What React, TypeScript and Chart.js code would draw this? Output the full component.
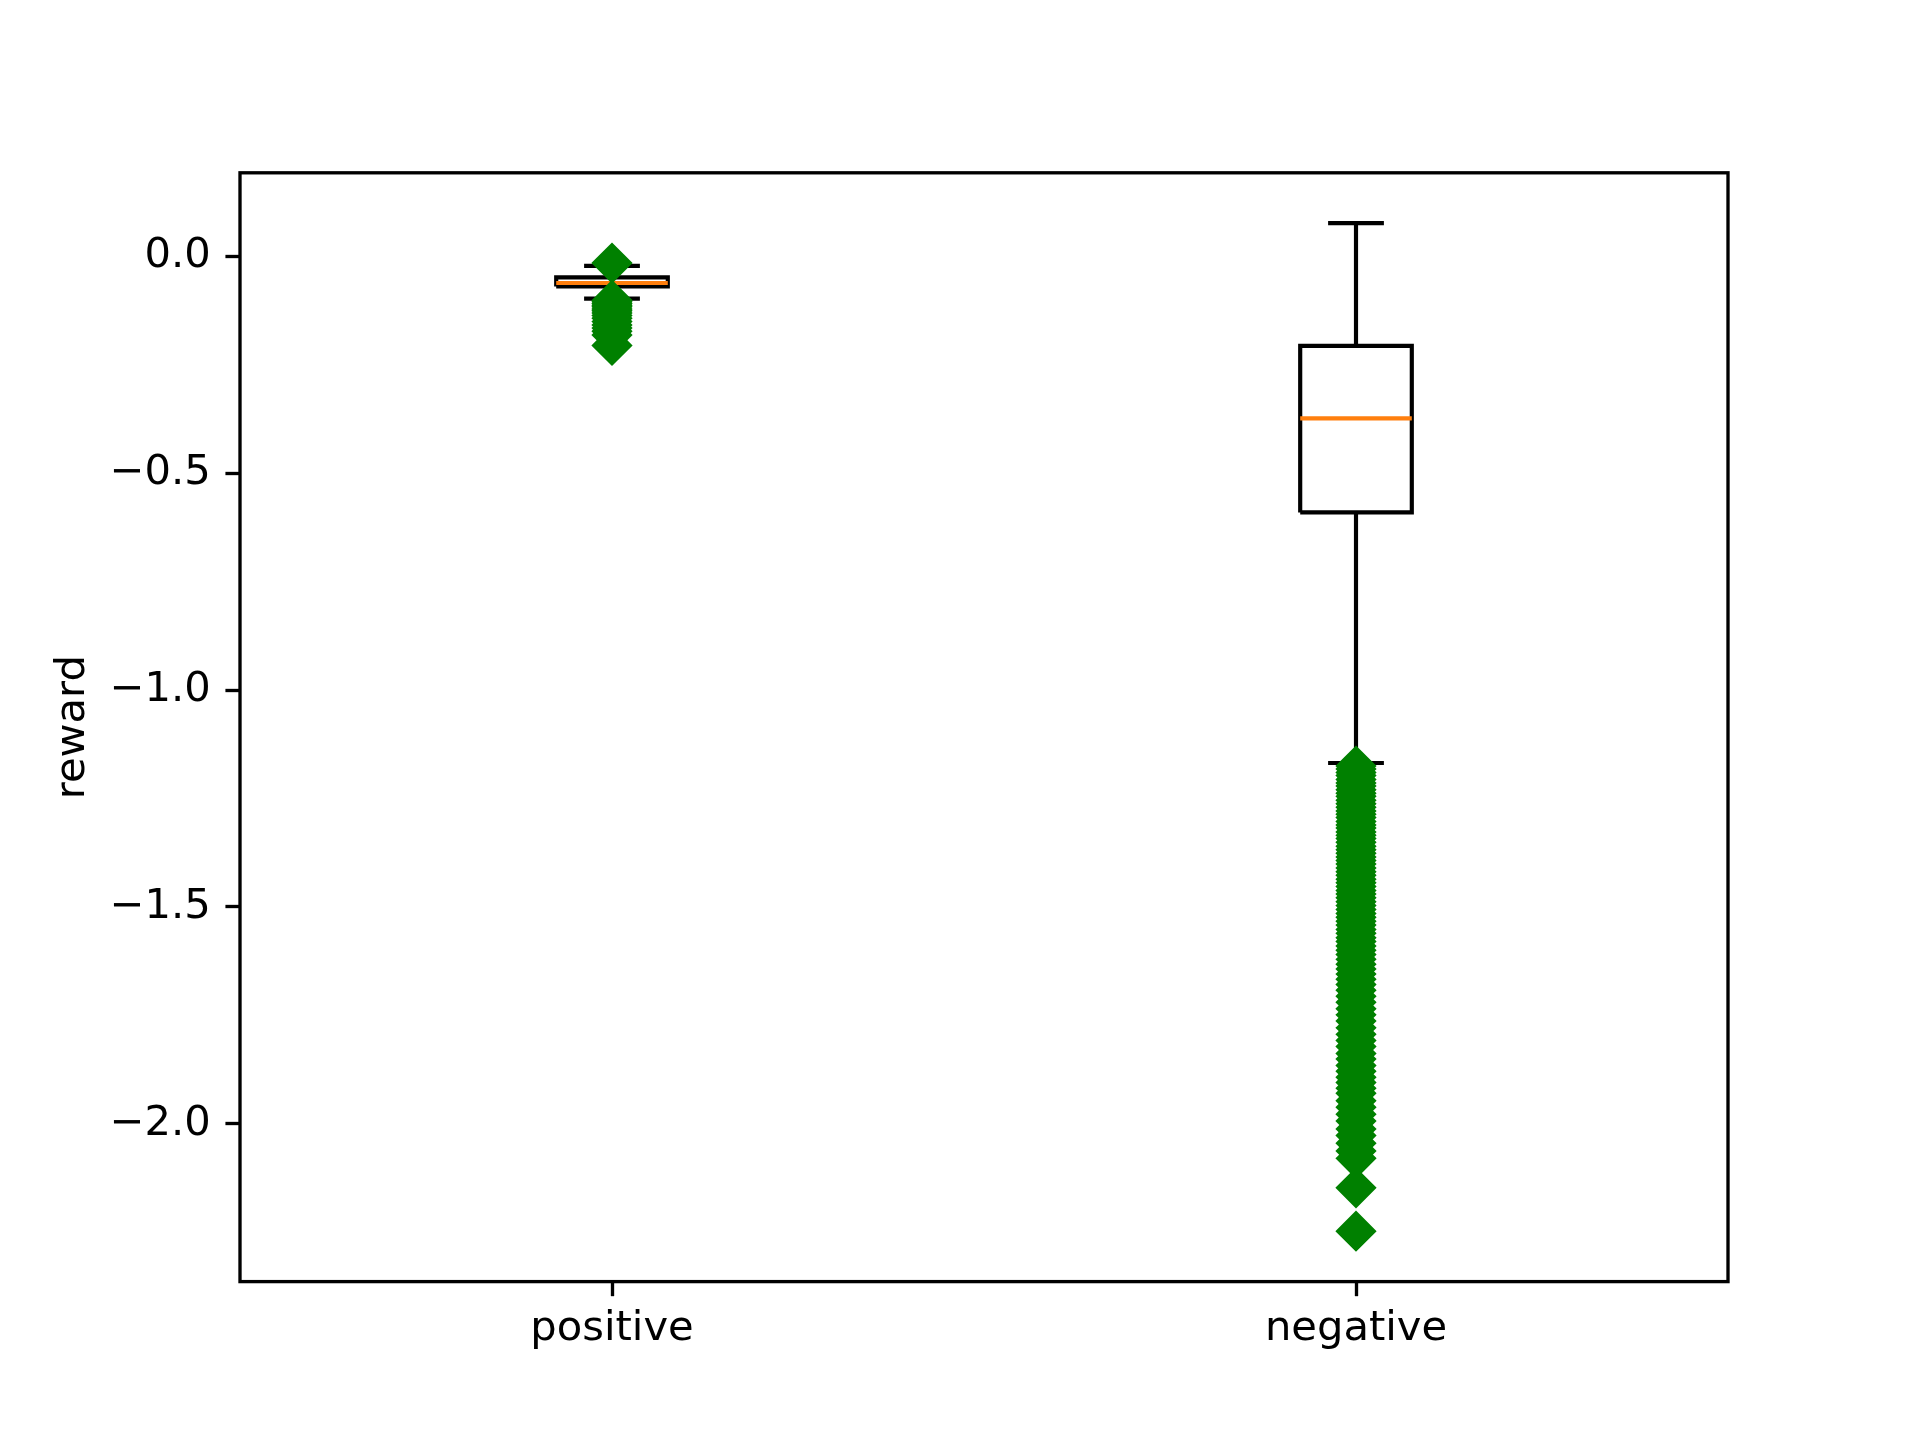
import React, { useEffect, useRef } from 'react';
import { Chart, registerables } from 'chart.js';

Chart.register(...registerables);

// ---------------- data ----------------
const categories = ['positive', 'negative'];
const positions = [1, 2];
const q1Values = [-0.069, -0.59];
const medianValues = [-0.061, -0.373];
const q3Values = [-0.048, -0.206];
const whiskerLowValues = [-0.097, -1.168];
const whiskerHighValues = [-0.0215, 0.077];
const positiveFliers = [
  -0.015, -0.101, -0.104, -0.108, -0.112, -0.116, -0.121, -0.125, -0.13, -0.136,
  -0.142, -0.15, -0.158, -0.165, -0.172, -0.181, -0.205,
];
const negativeFliers = [
  -1.175, -1.182, -1.19, -1.197, -1.206, -1.214, -1.221, -1.23, -1.238, -1.245,
  -1.254, -1.262, -1.27, -1.279, -1.286, -1.294, -1.303, -1.311, -1.318, -1.327,
  -1.335, -1.342, -1.351, -1.36, -1.368, -1.376, -1.385, -1.393, -1.401, -1.41,
  -1.419, -1.427, -1.436, -1.444, -1.453, -1.462, -1.47, -1.479, -1.488, -1.497,
  -1.506, -1.515, -1.524, -1.533, -1.542, -1.552, -1.561, -1.571, -1.58, -1.59,
  -1.6, -1.61, -1.621, -1.632, -1.643, -1.655, -1.667, -1.679, -1.692, -1.706,
  -1.72, -1.735, -1.749, -1.763, -1.779, -1.794, -1.808, -1.822, -1.838, -1.851,
  -1.866, -1.879, -1.893, -1.905, -1.918, -1.93, -1.947, -1.962, -1.978, -1.994,
  -2.012, -2.027, -2.045, -2.063, -2.08, -2.148, -2.248,
];
const fliers = [positiveFliers, negativeFliers];
const yTickValues = [-2.0, -1.5, -1.0, -0.5, 0.0];
const yLabel = 'reward';

// ---------------- style ----------------
const PT = 300 / 72;
const BOX_HALF = 0.075;
const CAP_HALF = 0.0375;
const W = 1920;
const H = 1440;

const allValues = [
  ...whiskerLowValues,
  ...whiskerHighValues,
  ...positiveFliers,
  ...negativeFliers,
];
const dataMin = Math.min(...allValues);
const dataMax = Math.max(...allValues);
const pad = 0.05 * (dataMax - dataMin);

function fmt(v: number) {
  const s = Math.abs(v).toFixed(1);
  return v < -1e-9 ? '\u2212' + s : s;
}

const frame = {
  id: 'frame',
  afterDraw(chart: any) {
    const { ctx, chartArea: a } = chart;
    ctx.save();
    ctx.strokeStyle = '#000';
    ctx.lineWidth = 0.8 * PT;
    ctx.strokeRect(a.left, a.top, a.right - a.left, a.bottom - a.top);
    ctx.restore();
  },
};

export default function App() {
  const ref = useRef<HTMLCanvasElement | null>(null);

  useEffect(() => {
    document.body.style.margin = '0';
    document.body.style.overflow = 'hidden';
    Chart.defaults.font.family = 'DejaVu Sans';
    Chart.defaults.color = '#000';

    const lineBase = {
      type: 'scatter' as const,
      showLine: true,
      pointRadius: 0,
      borderWidth: PT,
      borderColor: '#000',
      backgroundColor: '#000',
      fill: false,
      borderJoinStyle: 'miter' as const,
    };

    const datasets: any[] = [];
    // fliers (first = drawn on top)
    positions.forEach((p, i) => {
      datasets.push({
        type: 'scatter',
        data: fliers[i].map((v) => ({ x: p, y: v })),
        pointStyle: 'rectRot',
        pointRadius: (6 * PT) / Math.SQRT2,
        pointBackgroundColor: '#008000',
        pointBorderColor: '#008000',
        pointBorderWidth: PT,
        showLine: false,
      });
    });
    // medians
    positions.forEach((p, i) => {
      datasets.push({
        ...lineBase,
        borderColor: '#ff7f0e',
        data: [
          { x: p - BOX_HALF, y: medianValues[i] },
          { x: p + BOX_HALF, y: medianValues[i] },
        ],
      });
    });
    // boxes
    positions.forEach((p, i) => {
      datasets.push({
        ...lineBase,
        data: [
          { x: p - BOX_HALF, y: q1Values[i] },
          { x: p + BOX_HALF, y: q1Values[i] },
          { x: p + BOX_HALF, y: q3Values[i] },
          { x: p - BOX_HALF, y: q3Values[i] },
          { x: p - BOX_HALF, y: q1Values[i] },
        ],
      });
    });
    // whiskers and caps
    positions.forEach((p, i) => {
      datasets.push({
        ...lineBase,
        data: [
          { x: p, y: q1Values[i] },
          { x: p, y: whiskerLowValues[i] },
        ],
      });
      datasets.push({
        ...lineBase,
        data: [
          { x: p, y: q3Values[i] },
          { x: p, y: whiskerHighValues[i] },
        ],
      });
      datasets.push({
        ...lineBase,
        data: [
          { x: p - CAP_HALF, y: whiskerLowValues[i] },
          { x: p + CAP_HALF, y: whiskerLowValues[i] },
        ],
      });
      datasets.push({
        ...lineBase,
        data: [
          { x: p - CAP_HALF, y: whiskerHighValues[i] },
          { x: p + CAP_HALF, y: whiskerHighValues[i] },
        ],
      });
    });

    const fontSize = 10 * PT;
    const chart = new Chart(ref.current as HTMLCanvasElement, {
      type: 'scatter',
      data: { datasets },
      plugins: [frame],
      options: {
        animation: false,
        responsive: false,
        devicePixelRatio: 1,
        layout: { padding: { left: 0, right: W - 0.9 * W, top: 0.12 * H, bottom: 0 } },
        plugins: {
          legend: { display: false },
          tooltip: { enabled: false },
        },
        scales: {
          x: {
            type: 'linear',
            min: 0.5,
            max: 2.5,
            afterBuildTicks: (s: any) => {
              s.ticks = positions.map((v) => ({ value: v }));
            },
            afterFit: (s: any) => {
              s.height = H - 0.89 * H;
            },
            grid: {
              drawOnChartArea: false,
              drawTicks: true,
              tickLength: 3.5 * PT,
              tickWidth: 0.8 * PT,
              tickColor: '#000',
            },
            border: { display: false },
            ticks: {
              padding: 8,
              color: '#000',
              font: { size: fontSize },
              maxRotation: 0,
              autoSkip: false,
              callback: (v: any) => {
                const idx = positions.indexOf(Number(v));
                return idx >= 0 ? categories[idx] : '';
              },
            },
          },
          y: {
            type: 'linear',
            min: dataMin - pad,
            max: dataMax + pad,
            afterBuildTicks: (s: any) => {
              s.ticks = yTickValues.map((v) => ({ value: v }));
            },
            afterFit: (s: any) => {
              s.width = 0.125 * W;
            },
            grid: {
              drawOnChartArea: false,
              drawTicks: true,
              tickLength: 3.5 * PT,
              tickWidth: 0.8 * PT,
              tickColor: '#000',
            },
            border: { display: false },
            ticks: {
              padding: 3.5 * PT,
              color: '#000',
              font: { size: fontSize },
              autoSkip: false,
              callback: (v: any) => fmt(Number(v)),
            },
            title: {
              display: true,
              text: yLabel,
              color: '#000',
              font: { size: fontSize },
              padding: { top: 48, bottom: 0 },
            },
          },
        },
      },
    });
    return () => chart.destroy();
  }, []);

  return (
    <div style={{ width: W, height: H, background: '#fff' }}>
      <canvas ref={ref} width={W} height={H} style={{ width: W, height: H, display: 'block' }} />
    </div>
  );
}
